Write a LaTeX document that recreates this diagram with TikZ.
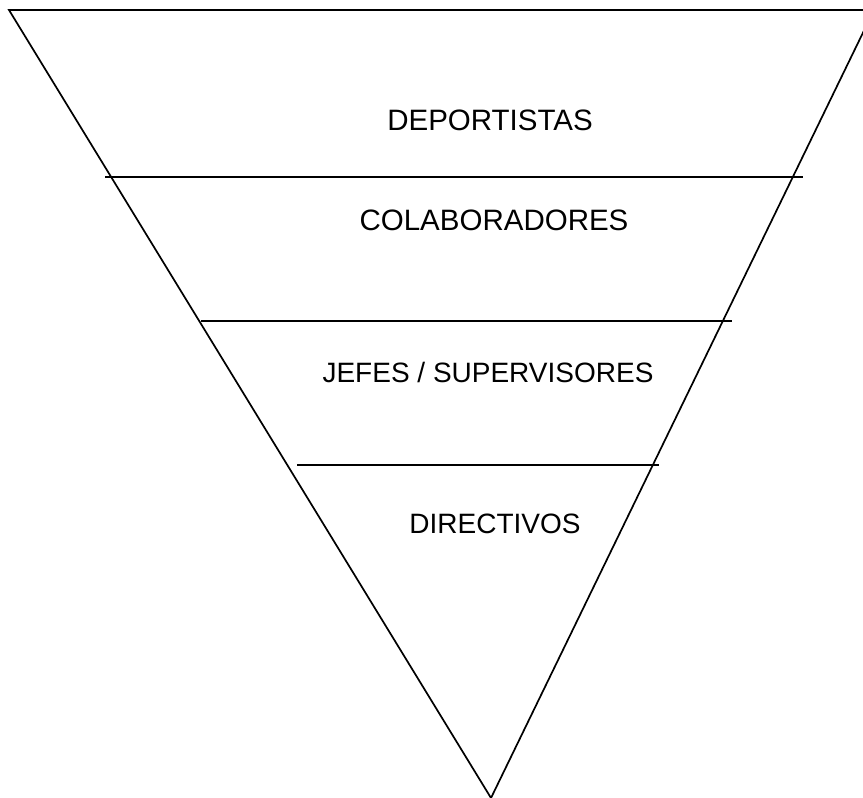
\documentclass[tikz,border=0pt]{standalone}
\usepackage{fontspec}
\setmainfont{Liberation Sans}
\begin{document}
\begin{tikzpicture}[x=1pt,y=-1pt,
  edge/.style={line width=1.7pt,line join=miter},
  level/.style={font=\fontsize{29.5}{33}\selectfont,inner sep=0pt,anchor=center},
  smalllevel/.style={level,font=\fontsize{28}{32}\selectfont}]
\useasboundingbox (0,0) rectangle (863,798);
\clip (0,0) rectangle (863,798);
% inverted triangle
\coordinate (tl) at (9,10);
\coordinate (tr) at (874,10);
\coordinate (apex) at (491,798);
\draw[edge] (tl) -- (tr) -- (apex) -- cycle;
% dividing lines
\coordinate (a1) at (105,177); \coordinate (b1) at (803,177);
\coordinate (a2) at (201,321); \coordinate (b2) at (732,321);
\coordinate (a3) at (297,465); \coordinate (b3) at (659,465);
\draw[edge] (a1) -- (b1);
\draw[edge] (a2) -- (b2);
\draw[edge] (a3) -- (b3);
% level labels
\node[level] (dep) at (490,120) {DEPORTISTAS};
\node[level] (col) at (494,220) {COLABORADORES};
\node[smalllevel] (jef) at (488,372) {JEFES / SUPERVISORES};
\node[smalllevel] (dir) at (495,524) {DIRECTIVOS};
\end{tikzpicture}
\end{document}
